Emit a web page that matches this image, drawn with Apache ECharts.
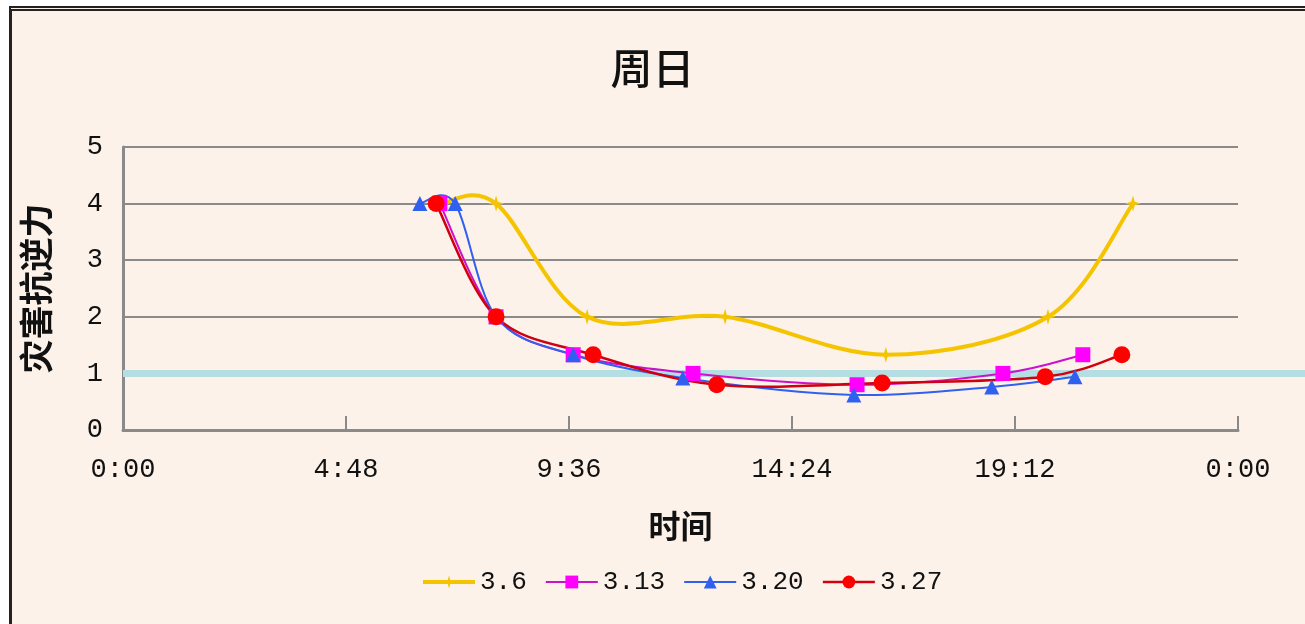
<!DOCTYPE html>
<html>
<head>
<meta charset="utf-8">
<script src="https://cdn.jsdelivr.net/npm/echarts@6/dist/echarts.min.js"></script>
<style>
  html, body { margin: 0; padding: 0; background: #ffffff; width: 1305px; height: 624px; overflow: hidden; }
  #frame { position: absolute; left: 9px; top: 6px; width: 1310px; height: 630px;
           border-top: 5px double #222; border-left: 3px solid #222; background: #FCF2E9; box-sizing: border-box; }
  #chart { position: absolute; left: 0; top: 0; width: 1305px; height: 624px; }
</style>
</head>
<body>
<div id="frame"></div>
<div id="chart"></div>
<script>
// ---- data (hours of day, values) ----
const titleText = '周日';
const xName = '时间';
const yName = '灾害抗逆力';
const seriesNames = ['3.6', '3.13', '3.20', '3.27'];

const hours_3_6  = [6.85, 8.03, 9.99, 12.96, 16.42, 19.91, 21.74];
const values_3_6 = [4, 4, 2, 2, 1.33, 2, 4];

const hours_3_13  = [6.82, 8.03, 9.69, 12.27, 15.8, 18.94, 20.66];
const values_3_13 = [4, 2, 1.33, 1.0, 0.8, 1.0, 1.33];

const hours_3_20  = [6.39, 7.15, 8.03, 9.69, 12.05, 15.73, 18.7, 20.49];
const values_3_20 = [4, 4, 2, 1.33, 0.92, 0.62, 0.76, 0.94];

const hours_3_27  = [6.74, 8.03, 10.12, 12.78, 16.34, 19.85, 21.5];
const values_3_27 = [4, 2, 1.33, 0.8, 0.83, 0.94, 1.33];

const refHours  = [0, 25.6];
const refValues = [1, 1];

const xTicks = [0, 4.8, 9.6, 14.4, 19.2, 24];

// ---- helpers ----
function pairs(h, v) { return h.map((x, i) => [x, v[i]]); }
function fmtTime(v) {
  let mins = Math.round(v * 60);
  let h = Math.floor(mins / 60) % 24;
  let m = mins % 60;
  return h + ':' + (m < 10 ? '0' + m : m);
}

// Excel-like smoothed curve (Catmull-Rom -> cubic Bezier) through the points,
// positioned by the cartesian coordinate system via api.coord.
function smoothCurveSeries(data, color, width, z) {
  return {
    type: 'custom', coordinateSystem: 'cartesian2d', data: data,
    encode: { x: 0, y: 1 }, silent: true, z: z, clip: false,
    renderItem: function (params, api) {
      if (params.dataIndex !== 0) return null;
      const p = data.map(d => api.coord(d));
      const children = [];
      const t = 1 / 6;
      for (let i = 0; i < p.length - 1; i++) {
        const p0 = p[Math.max(i - 1, 0)], p1 = p[i], p2 = p[i + 1], p3 = p[Math.min(i + 2, p.length - 1)];
        children.push({
          type: 'bezierCurve',
          shape: {
            x1: p1[0], y1: p1[1], x2: p2[0], y2: p2[1],
            cpx1: p1[0] + (p2[0] - p0[0]) * t, cpy1: p1[1] + (p2[1] - p0[1]) * t,
            cpx2: p2[0] - (p3[0] - p1[0]) * t, cpy2: p2[1] - (p3[1] - p1[1]) * t
          },
          style: { stroke: color, lineWidth: width, fill: null }
        });
      }
      return { type: 'group', children: children };
    }
  };
}

function refLineSeries(data, color, width) {
  return {
    type: 'custom', coordinateSystem: 'cartesian2d', data: data,
    encode: { x: 0, y: 1 }, silent: true, z: 1, clip: false,
    renderItem: function (params, api) {
      if (params.dataIndex !== 0) return null;
      const a = api.coord(data[0]), b = api.coord(data[data.length - 1]);
      return { type: 'line', shape: { x1: a[0], y1: a[1], x2: b[0], y2: b[1] },
               style: { stroke: color, lineWidth: width } };
    }
  };
}

const monoFont = 'Liberation Mono';
const starPath = 'path://M0,-10 L2.2,-2.2 L10,0 L2.2,2.2 L0,10 L-2.2,2.2 L-10,0 L-2.2,-2.2 Z';

const styles = {
  '3.6':  { color: '#F5C400', line: '#F5C400', width: 4,   symbol: starPath,   size: 16 },
  '3.13': { color: '#FF00FF', line: '#CC10CC', width: 2,   symbol: 'rect',     size: 15 },
  '3.20': { color: '#3060F0', line: '#3060F0', width: 2,   symbol: 'triangle', size: 15 },
  '3.27': { color: '#FF0000', line: '#D00010', width: 2.5, symbol: 'circle',   size: 17 }
};
const seriesData = {
  '3.6': pairs(hours_3_6, values_3_6),
  '3.13': pairs(hours_3_13, values_3_13),
  '3.20': pairs(hours_3_20, values_3_20),
  '3.27': pairs(hours_3_27, values_3_27)
};

const series = [refLineSeries(pairs(refHours, refValues), '#B5DEE2', 7)];
seriesNames.forEach((name, k) => {
  const s = styles[name];
  series.push(smoothCurveSeries(seriesData[name], s.line, s.width, 2 + k));
});
seriesNames.forEach((name, k) => {
  const s = styles[name];
  series.push({
    name: name, type: 'line', data: seriesData[name],
    symbol: s.symbol, symbolSize: s.size, z: 10 + k,
    itemStyle: { color: s.color },
    lineStyle: { color: s.line, width: s.width, opacity: 0 }
  });
});

const chart = echarts.init(document.getElementById('chart'));
chart.setOption({
  backgroundColor: 'transparent',
  animation: false,
  title: {
    text: titleText, left: 'center', top: 42,
    textStyle: { fontFamily: 'Noto Sans CJK SC', fontSize: 42, fontWeight: 500, color: '#111' }
  },
  legend: {
    data: seriesNames.map(n => ({ name: n, lineStyle: { opacity: 1, color: styles[n].line, width: styles[n].width } })),
    left: 416, top: 564,
    itemWidth: 52, itemHeight: 16, itemGap: 18,
    textStyle: { fontFamily: monoFont, fontSize: 26, color: '#111' }
  },
  grid: { left: 123, right: 67, top: 147, bottom: 194 },
  xAxis: {
    type: 'value', min: 0, max: 24, interval: 4.8,
    name: xName, nameLocation: 'middle', nameGap: 80,
    nameTextStyle: { fontFamily: 'Noto Sans CJK SC', fontSize: 32, fontWeight: 'bold', color: '#111' },
    axisLine: { show: true, lineStyle: { color: '#8a8a8a', width: 3 } },
    axisTick: { show: true, inside: true, length: 14, lineStyle: { color: '#8a8a8a', width: 2 } },
    axisLabel: { formatter: fmtTime, margin: 26, fontFamily: monoFont, fontSize: 27, color: '#111',
                 customValues: xTicks },
    splitLine: { show: false }
  },
  yAxis: {
    type: 'value', min: 0, max: 5, interval: 1,
    name: yName, nameLocation: 'middle', nameGap: 70, nameRotate: 90,
    nameTextStyle: { fontFamily: 'Noto Sans CJK SC', fontSize: 34, fontWeight: 'bold', color: '#111' },
    axisLine: { show: true, lineStyle: { color: '#8a8a8a', width: 3 } },
    axisTick: { show: false },
    axisLabel: { margin: 20, fontFamily: monoFont, fontSize: 27, color: '#111' },
    splitLine: { show: true, lineStyle: { color: '#8a8a8a', width: 2 } }
  },
  series: series
});
</script>
</body>
</html>
